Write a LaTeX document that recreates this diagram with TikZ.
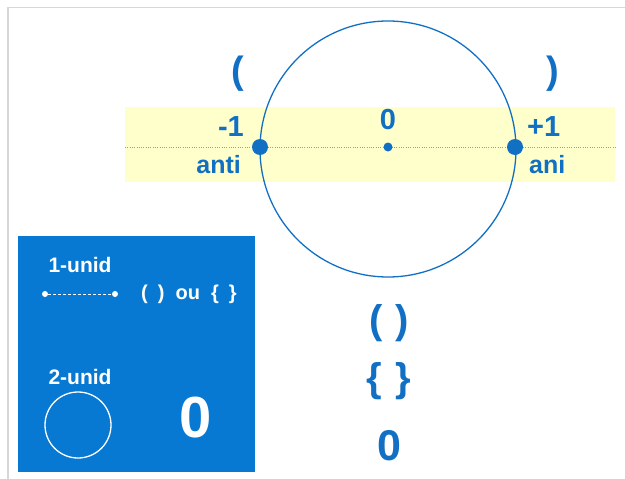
\documentclass[tikz,border=0pt]{standalone}
\usepackage{fontspec}
\setmainfont{Liberation Sans}
\definecolor{txtblue}{RGB}{18,112,196}
\definecolor{boxblue}{RGB}{8,121,210}
\definecolor{bandyellow}{RGB}{255,255,204}
\definecolor{framegray}{RGB}{215,215,215}
\tikzset{
  lbl/.style={text=txtblue,font=\bfseries\fontsize{#1}{#1}\selectfont,inner sep=0pt},
  wlbl/.style={text=white,font=\bfseries\fontsize{#1}{#1}\selectfont,inner sep=0pt},
  bigdot/.style={circle,fill=txtblue,inner sep=0pt,minimum size=#1},
}
\begin{document}
\begin{tikzpicture}[x=1pt,y=-1pt]
\useasboundingbox (0,0) rectangle (625,479);
\fill[white] (0,0) rectangle (625,479);
% frame
\draw[framegray,line width=1.2pt] (8,479) -- (8,7.5) -- (625,7.5);
% yellow band
\fill[bandyellow] (125,107) rectangle (615,182);
\coordinate (dl) at (125,147);
\coordinate (dr) at (615,147);
\draw[txtblue!60,line width=1pt,dash pattern=on 1pt off 1.3pt] (dl) -- (dr);
% circle
\node[circle,draw=txtblue,line width=1.3pt,minimum size=256pt,inner sep=0pt] (big) at (388,149) {};
\node[bigdot=16pt] (pm) at (260,147) {};
\node[bigdot=16pt] (pp) at (515,147) {};
\node[bigdot=9pt] (pz) at (388,147) {};
% labels
\node[lbl=38] (lp) at (238,74) {(};
\node[lbl=38] (rp) at (553,74) {)};
\node[lbl=29,anchor=east] (m1) at (244,127) {-1};
\node[lbl=29] (z0) at (388,120) {0};
\node[lbl=29,anchor=west] (p1) at (527,127) {+1};
\node[lbl=25,anchor=east] (anti) at (241,165) {anti};
\node[lbl=25,anchor=west] (ani) at (529,165) {ani};
% blue box
\fill[boxblue] (18,236) rectangle (255,472);
\node[wlbl=21] (u1) at (80,265) {1-unid};
\node[circle,fill=white,inner sep=0pt,minimum size=6pt] (a1) at (45,294) {};
\node[circle,fill=white,inner sep=0pt,minimum size=6pt] (a2) at (115,294) {};
\draw[white,line width=1pt,dash pattern=on 3pt off 2pt] (a1) -- (a2);
\node[wlbl=20] (ou) at (189,294) {(\,\,\,)~~ou~~\{\,\,\,\}};
\node[wlbl=21] (u2) at (80,377) {2-unid};
\node[circle,draw=white,line width=1.3pt,minimum size=66pt,inner sep=0pt] (c2) at (78,425) {};
\node[wlbl=58] (bz) at (196,418) {0};
% right column
\node[lbl=40] (r1) at (389,323) {(\,\,)};
\node[lbl=40] (r2) at (389,381) {\{\,\,\}};
\node[lbl=43] (r3) at (389,446) {0};
\end{tikzpicture}
\end{document}
